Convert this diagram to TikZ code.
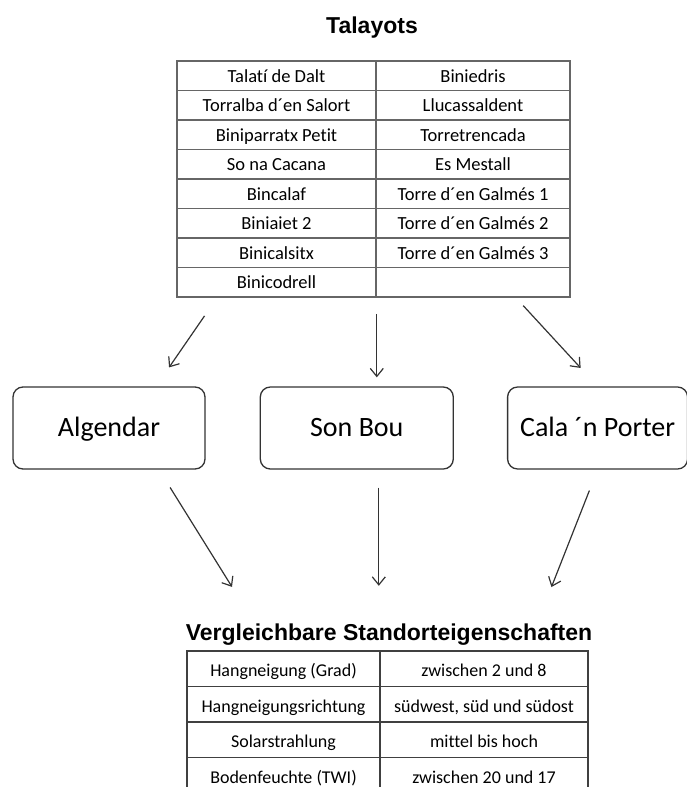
\documentclass[tikz,border=0pt]{standalone}
\usepackage{fontspec}
\setmainfont{Carlito}[Ligatures=NoCommon]
\newfontfamily\titlefont{Liberation Sans}
\usetikzlibrary{arrows.meta, positioning}

\begin{document}
\begin{tikzpicture}[
    x=1pt, y=-1pt,
    cell/.style={
        rectangle,
        draw=gray!80!black,
        line width=1.6pt,
        inner sep=0pt,
        minimum height=29.5pt,
        text height=14pt,
        text depth=1pt,
        align=center,
        font=\fontsize{18.5}{21}\selectfont
    },
    propcell/.style={
        cell,
        draw=black!75,
        minimum height=35.5pt,
        text height=16pt,
        text depth=0pt,
        font=\fontsize{18}{21}\selectfont
    },
    site/.style={
        rectangle,
        draw=black!80,
        line width=1.3pt,
        rounded corners=10pt,
        minimum width=192pt,
        minimum height=82pt,
        text height=20pt,
        text depth=4pt,
        font=\fontsize{28}{33}\selectfont
    },
    heading/.style={
        anchor=base,
        inner sep=0pt,
        text height=16pt,
        text depth=5pt,
        font=\titlefont\bfseries\fontsize{23}{27}\selectfont
    },
    arrow/.style={
        draw=black!80,
        line width=1.2pt,
        -{Straight Barb[length=8pt, width=13pt]}
    }
]
    \useasboundingbox (0,0) rectangle (687,787);
    \clip (0,0) rectangle (687,787);

    % Talayots table
    \node [heading] (talayots) at (372,33) {Talayots};
    \foreach \ca/\cb [count=\i] in {Talatí de Dalt/Biniedris, Torralba d´en Salort/Llucassaldent,
        Biniparratx Petit/Torretrencada, So na Cacana/Es Mestall, Bincalaf/Torre d´en Galmés 1,
        Biniaiet 2/Torre d´en Galmés 2, Binicalsitx/Torre d´en Galmés 3, Binicodrell/{}} {
        \node [cell, minimum width=199pt] (tl\i) at (276.5, 46.25+29.5*\i) {\ca};
        \node [cell, minimum width=194pt] (tr\i) at (473, 46.25+29.5*\i) {\cb};
    }

    % Sites
    \node [site] (algendar) at (109,428) {Algendar};
    \node [site, right=54pt of algendar, minimum width=193pt] (sonbou) {Son Bou};
    \node [site, right=53pt of sonbou, minimum width=180pt] (calanporter) {Cala ´n Porter};

    % Properties table
    \node [heading] (vergleich) at (389,640) {Vergleichbare Standorteigenschaften};
    \foreach \ca/\cb [count=\i] in {Hangneigung (Grad)/zwischen 2 und 8,
        Hangneigungsrichtung/{südwest, süd und südost}, Solarstrahlung/mittel bis hoch,
        Bodenfeuchte (TWI)/zwischen 20 und 17} {
        \node [propcell, minimum width=193pt] (pl\i) at (283.5, 633.25+35.5*\i) {\ca};
        \node [propcell, minimum width=208pt] (pr\i) at (484, 633.25+35.5*\i) {\cb};
    }

    % Arrows
    \draw [arrow, shorten <=22pt, shorten >=23pt] ([xshift=-59.5pt]tl8.south) -- ([xshift=47pt]algendar.north);
    \draw [arrow, shorten <=16pt, shorten >=9pt] (tl8.south east) -- (tl8.south east |- sonbou.north);
    \draw [arrow, shorten <=10.6pt, shorten >=25pt] ([xshift=43pt]tr8.south) -- (calanporter.north);

    \draw [arrow, shorten <=21pt, shorten >=43.5pt] ([xshift=50pt]algendar.south) -- ([xshift=-134pt]vergleich.north);
    \draw [arrow, shorten <=18pt, shorten >=38pt] ([xshift=22pt]sonbou.south) -- ([xshift=22pt]sonbou.south |- vergleich.north);
    \draw [arrow, shorten <=22.4pt, shorten >=39.5pt] (calanporter.south) -- ([xshift=148pt]vergleich.north);
\end{tikzpicture}
\end{document}
